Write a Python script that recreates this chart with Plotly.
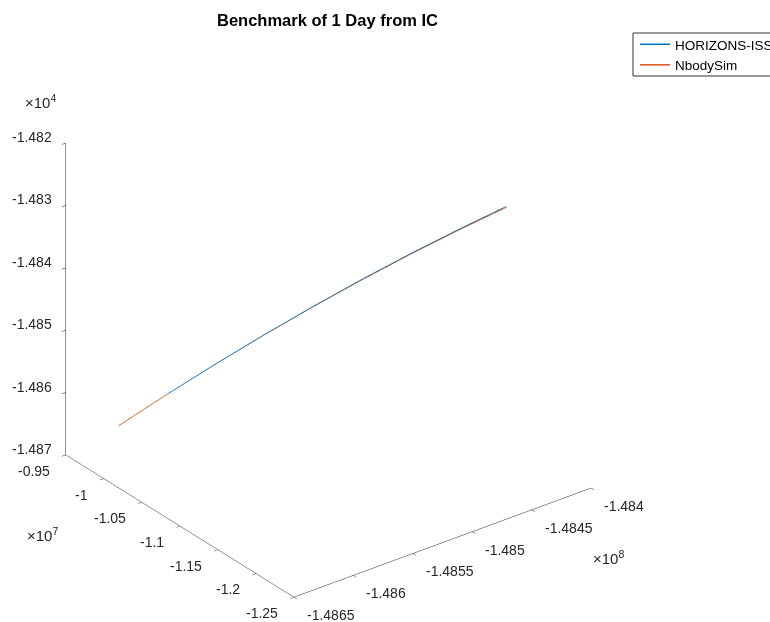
import plotly.graph_objects as go
import math

# ---- data (km) ----
horizons_x = [-148626250, -148604000, -148581750, -148559500, -148537250, -148515000, -148492750, -148470500, -148448250]
horizons_y = [-9824000, -10113500, -10403000, -10692500, -10982000, -11271500, -11561000, -11850500, -12140000]
horizons_z = [-14864.52, -14858.83, -14853.33, -14848.01, -14842.87, -14837.92, -14833.16, -14828.59, -14824.20]

nbody_x = [-148626250, -148604000, -148581750, -148559500, -148537250, -148515000, -148492750, -148470500, -148448250]
nbody_y = [-9824000, -10113500, -10403000, -10692500, -10982000, -11271500, -11561000, -11850500, -12140000]
nbody_z = [-14864.52, -14858.83, -14853.35, -14848.05, -14842.93, -14838.00, -14833.26, -14828.72, -14824.36]

x_ticks = [-148650000, -148600000, -148550000, -148500000, -148450000, -148400000]
x_ticklabels = ["-1.4865", "-1.486", "-1.4855", "-1.485", "-1.4845", "-1.484"]
y_ticks = [-12500000, -12000000, -11500000, -11000000, -10500000, -10000000, -9500000]
y_ticklabels = ["-1.25", "-1.2", "-1.15", "-1.1", "-1.05", "-1", "-0.95"]
z_ticks = [-14870, -14860, -14850, -14840, -14830, -14820]
z_ticklabels = ["-1.487", "-1.486", "-1.485", "-1.484", "-1.483", "-1.482"]

FONT = "Liberation Sans, Arial, sans-serif"
AXC = "#262626"
TFS = 14

fig = go.Figure()
fig.add_trace(go.Scatter3d(x=horizons_x, y=horizons_y, z=horizons_z, mode="lines",
                           name="HORIZONS-ISS", line=dict(color="#0072BD", width=1.5)))
fig.add_trace(go.Scatter3d(x=nbody_x, y=nbody_y, z=nbody_z, mode="lines",
                           name="NbodySim", line=dict(color="#D95319", width=1.5)))

def ax(ticks):
    return dict(range=[ticks[0], ticks[-1]], tickvals=ticks, showticklabels=False,
                showbackground=False, showgrid=False, zeroline=False,
                showline=True, linecolor=AXC, linewidth=1,
                ticks="outside", ticklen=5, tickcolor=AXC,
                title=dict(text=""), showspikes=False)

def inside(v, ticks):
    # keep annotation anchors a hair inside the axis range so they are not culled
    lo, hi = ticks[0], ticks[-1]
    e = (hi - lo) * 1e-4
    return min(max(v, lo + e), hi - e)

# tick labels placed at the axis tick positions in scene coordinates
xa, ya_lo, ya_hi, za = inside(x_ticks[0], x_ticks), inside(y_ticks[0], y_ticks), inside(y_ticks[-1], y_ticks), inside(z_ticks[0], z_ticks)
tick_ann = []
for v, t in zip(x_ticks, x_ticklabels):
    tick_ann.append(dict(x=inside(v, x_ticks), y=ya_lo, z=za, text=t, showarrow=False, xanchor="left",
                         yanchor="middle", xshift=11, yshift=-18,
                         font=dict(family=FONT, size=TFS, color=AXC)))
for v, t in zip(y_ticks, y_ticklabels):
    tick_ann.append(dict(x=xa, y=inside(v, y_ticks), z=za, text=t, showarrow=False, xanchor="right",
                         yanchor="middle", xshift=-14, yshift=-16,
                         font=dict(family=FONT, size=TFS, color=AXC)))
for v, t in zip(z_ticks, z_ticklabels):
    tick_ann.append(dict(x=xa, y=ya_hi, z=inside(v, z_ticks), text=t, showarrow=False, xanchor="right",
                         yanchor="middle", xshift=-12, yshift=6,
                         font=dict(family=FONT, size=TFS, color=AXC)))

az, el = math.radians(-37.5), math.radians(28.6)
k = 1.9
eye = dict(x=math.sin(az) * math.cos(el) * k, y=-math.cos(az) * math.cos(el) * k, z=math.sin(el) * k)

EXP = dict(family=FONT, size=15, color=AXC)

fig.update_layout(
    width=770, height=622,
    margin=dict(l=0, r=0, t=0, b=0, autoexpand=False),
    paper_bgcolor="white",
    title=dict(text="<b>Benchmark of 1 Day from IC</b>", x=327.5 / 770, xanchor="center",
               y=1 - 20 / 622, yanchor="middle", font=dict(family=FONT, size=16.5, color="black")),
    scene=dict(
        domain=dict(x=[0, 657 / 770], y=[0, 613 / 622]),
        xaxis=ax(x_ticks),
        yaxis=ax(y_ticks),
        zaxis=ax(z_ticks),
        aspectmode="manual", aspectratio=dict(x=1.2225, y=1.2225, z=1.159),
        camera=dict(eye=eye, up=dict(x=0, y=0, z=1), center=dict(x=0, y=0, z=0),
                    projection=dict(type="orthographic")),
        bgcolor="white",
        annotations=tick_ann,
    ),
    legend=dict(x=635 / 770, xanchor="left", y=1 - 29 / 622, yanchor="top",
                bgcolor="rgba(0,0,0,0)", borderwidth=0,
                font=dict(family=FONT, size=13.5, color="black"),
                tracegroupgap=0, itemwidth=30),
    showlegend=True,
    shapes=[dict(type="rect", xref="paper", yref="paper", x0=633 / 770, x1=1.02,
                 y0=1 - 76 / 622, y1=1 - 33 / 622, line=dict(color="#333", width=1),
                 fillcolor="rgba(0,0,0,0)", layer="above")],
    annotations=[
        dict(text="\u00d710<sup>4</sup>", x=23 / 770, y=1 - 101 / 622, xref="paper", yref="paper",
             showarrow=False, xanchor="left", yanchor="middle", font=EXP),
        dict(text="\u00d710<sup>7</sup>", x=25 / 770, y=1 - 534 / 622, xref="paper", yref="paper",
             showarrow=False, xanchor="left", yanchor="middle", font=EXP),
        dict(text="\u00d710<sup>8</sup>", x=591 / 770, y=1 - 557 / 622, xref="paper", yref="paper",
             showarrow=False, xanchor="left", yanchor="middle", font=EXP),
    ],
)

fig.write_html("out.html", config=dict(displayModeBar=False))
